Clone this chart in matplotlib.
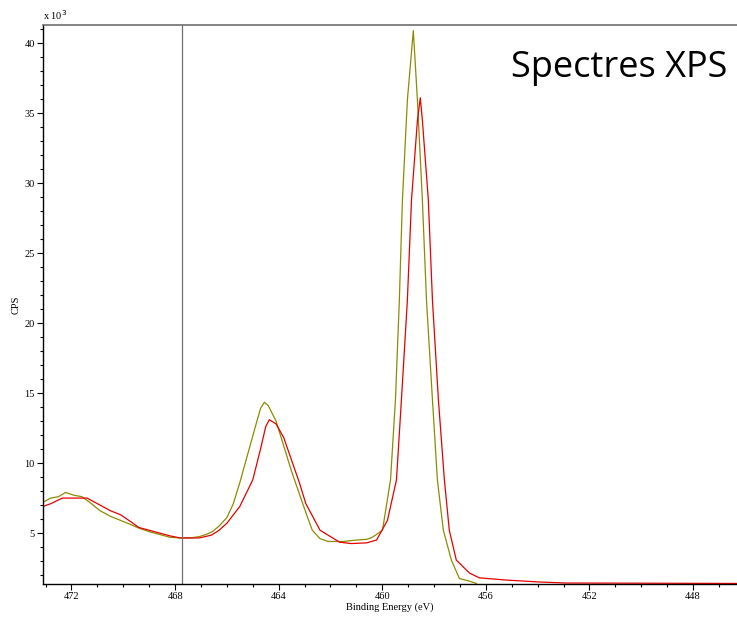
import matplotlib.pyplot as plt
from matplotlib.ticker import MultipleLocator

# Binding energy (eV) and counts (x10^3 CPS)
olive_energy = [473.1, 472.8, 472.5, 472.23, 471.9, 471.6, 471.3, 470.9, 470.5, 470.1,
                469.7, 469.4, 469.0, 468.6, 468.2, 467.8, 467.4, 467.06, 466.8, 466.56,
                466.3, 466.0, 465.75, 465.5, 465.2, 464.9, 464.7, 464.55, 464.4, 464.1,
                463.8, 463.5, 463.2, 462.9, 462.7, 462.4, 462.1, 461.5, 461.0, 460.6,
                460.38, 459.99, 459.68, 459.49, 459.34, 459.22, 459.03, 458.8, 458.64,
                458.45, 458.29, 458.06, 457.87, 457.64, 457.33, 457.02, 456.7, 456.36]
olive_cps = [7.2, 7.5, 7.6, 7.9, 7.7, 7.6, 7.2, 6.6, 6.2, 5.9,
             5.6, 5.35, 5.1, 4.9, 4.7, 4.65, 4.65, 4.75, 4.9, 5.1,
             5.5, 6.1, 7.1, 8.6, 10.6, 12.6, 13.9, 14.35, 14.1, 13.0,
             11.2, 9.4, 7.8, 6.2, 5.2, 4.6, 4.4, 4.4, 4.5, 4.55,
             4.7, 5.2, 8.8, 14.5, 21.6, 28.8, 35.9, 40.9, 35.9,
             28.8, 21.6, 14.5, 8.8, 5.2, 3.07, 1.75, 1.6, 1.4]

red_energy = [473.1, 472.8, 472.35, 471.9, 471.4, 470.9, 470.5, 470.1, 469.7, 469.4,
              469.0, 468.6, 468.2, 467.8, 467.06, 466.6, 466.3, 466.0, 465.5, 465.0,
              464.7, 464.5, 464.36, 464.1, 463.8, 463.5, 463.2, 462.95, 462.4, 461.65,
              461.2, 460.6, 460.22, 459.8, 459.45, 459.26, 459.03, 458.87, 458.64, 458.53,
              458.45, 458.22, 458.06, 457.83, 457.6, 457.41, 457.14, 456.63, 456.25,
              455.2, 453.9, 452.9, 446.3]
red_cps = [6.9, 7.1, 7.5, 7.5, 7.5, 7.0, 6.6, 6.3, 5.8, 5.4,
           5.2, 5.0, 4.8, 4.65, 4.65, 4.85, 5.2, 5.7, 6.9, 8.8,
           11.0, 12.6, 13.1, 12.8, 11.8, 10.2, 8.6, 7.1, 5.2, 4.35,
           4.25, 4.3, 4.5, 5.9, 8.8, 14.5, 21.6, 28.8, 34.5, 36.1,
           34.5, 28.8, 21.6, 14.5, 8.8, 5.2, 3.07, 2.14, 1.8,
           1.64, 1.5, 1.43, 1.4]

cursor_energy = 467.73

fig = plt.figure(figsize=(7.37, 6.2), dpi=100)
ax = fig.add_axes([43 / 737, 36 / 620, 694 / 737, 559 / 620])

ax.plot(olive_energy, olive_cps, color='#8c8c00', lw=0.9)
ax.plot(red_energy, red_cps, color='#e60000', lw=0.9)
ax.axvline(cursor_energy, color='#707070', lw=0.9)

ax.set_xlim(473.1, 446.3)
ax.set_ylim(1.36, 41.3)

ax.xaxis.set_major_locator(MultipleLocator(4))
ax.xaxis.set_minor_locator(MultipleLocator(1))
ax.yaxis.set_major_locator(MultipleLocator(5))
ax.yaxis.set_minor_locator(MultipleLocator(1))
ax.yaxis.set_major_formatter(lambda v, p: '%d' % v)
ax.xaxis.set_major_formatter(lambda v, p: '%d' % v)

ax.tick_params(which='major', length=4, width=0.8, labelsize=7.5, pad=2)
ax.tick_params(which='minor', length=2.5, width=0.8)
for lab in ax.get_xticklabels() + ax.get_yticklabels():
    lab.set_fontfamily('Liberation Serif')

ax.spines['right'].set_visible(False)
ax.spines['top'].set_color('#6e6e6e')
ax.spines['top'].set_linewidth(1.2)
ax.spines['left'].set_linewidth(1.0)
ax.spines['bottom'].set_linewidth(1.0)

ax.set_xlabel('Binding Energy (eV)', family='Liberation Serif', fontsize=7.5, labelpad=1)
ax.set_ylabel('CPS', family='Liberation Serif', fontsize=7.5, labelpad=3)

fig.text(43 / 737, 598 / 620, r'x 10$^3$', family='Liberation Serif', fontsize=7.5,
         ha='left', va='bottom')
fig.text(727 / 737, 543 / 620, 'Spectres XPS', family='Open Sans', fontsize=26,
         ha='right', va='baseline')

fig.savefig('out.png', dpi=100)
